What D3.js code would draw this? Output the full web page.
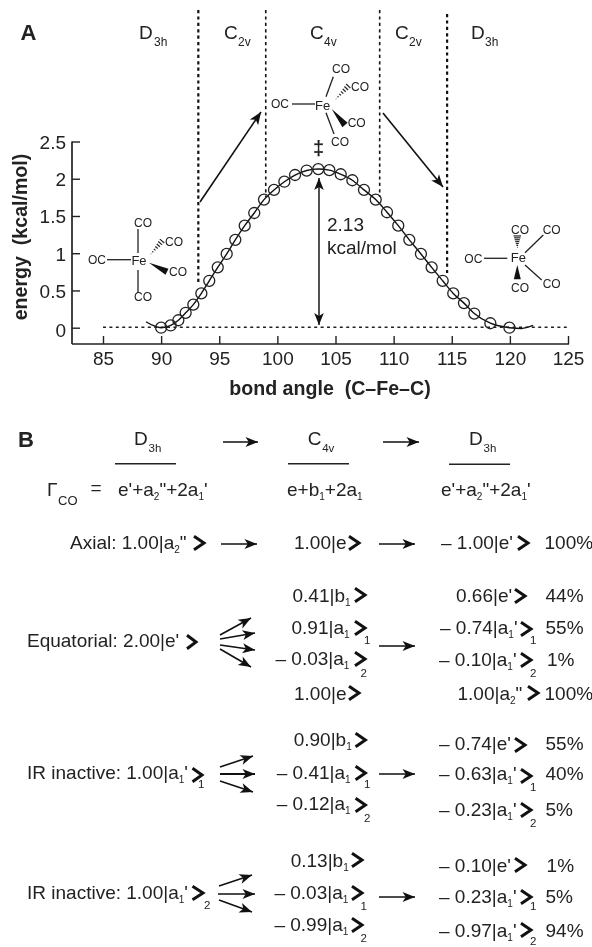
<!DOCTYPE html>
<html><head><meta charset="utf-8">
<script src="https://cdn.jsdelivr.net/npm/d3@7/dist/d3.min.js"></script>
<style>html,body{margin:0;padding:0;background:#fff}svg{display:block;filter:blur(.4px)}text{font-family:"Liberation Sans",Arial,sans-serif;fill:#222}</style>
</head><body><svg id="c" width="592" height="947"></svg>
<script>
// ---- data ----
const angleDeg = [90,90.82,91.48,92.11,92.77,93.46,94.14,94.87,95.64,96.38,97.19,98.01,98.85,99.71,100.6,101.52,102.52,103.52,104.47,105.45,106.45,107.45,108.46,109.43,110.4,111.35,112.35,113.27,114.22,115.13,116.05,116.94,118.32,119.96];
const energy = [0,0.03,0.10,0.20,0.31,0.46,0.63,0.81,0.99,1.18,1.37,1.54,1.72,1.85,1.96,2.05,2.11,2.13,2.115,2.06,1.98,1.85,1.72,1.55,1.37,1.18,0.99,0.81,0.63,0.46,0.33,0.19,0.06,0];
const lineHeadAngle = [88.7,89.3], lineHeadEnergy = [0.08,0.03];
const lineTailAngle = [121,122], lineTailEnergy = [-0.01,0.03];
const xTicks = [85,90,95,100,105,110,115,120,125];
const yTicks = [0,0.5,1,1.5,2,2.5];
const boundaryAngles = [93.2,99,108.8,114.6];
const symmetryLabels = [["D","3h"],["C","2v"],["C","4v"],["C","2v"],["D","3h"]];
const ketLabels = [
 "Axial: 1.00|a_2\"","1.00|e","– 1.00|e'",
 "0.41|b_1","0.91|a_1","– 0.03|a_1","1.00|e",
 "0.66|e'","– 0.74|a_1'","– 0.10|a_1'","1.00|a_2\"",
 "Equatorial: 2.00|e'",
 "IR inactive: 1.00|a_1'","0.90|b_1","– 0.41|a_1","– 0.12|a_1","– 0.74|e'","– 0.63|a_1'","– 0.23|a_1'",
 "IR inactive: 1.00|a_1'","0.13|b_1","– 0.03|a_1","– 0.99|a_1","– 0.10|e'","– 0.23|a_1'","– 0.97|a_1'"];
const ketIndex = ["","","","","1","2","","","1","2","","","1","","1","2","","1","2","2","","1","2","","1","2"];
const percentLabels = ["100%","44%","55%","1%","100%","55%","40%","5%","1%","5%","94%"];

// ---- layout ----
const svg = d3.select("#c");
const ink = "#222";
const x = d3.scaleLinear().domain([85,125]).range([103,568]);
const y = d3.scaleLinear().domain([0,2.5]).range([327.7,141.5]);
const axisXStart = 72, axisY = 344;

function txt(px,py,s,size,opt={}){
  const t = svg.append("text").attr("x",px).attr("y",py).attr("font-size",size).text(s);
  if(opt.anchor) t.attr("text-anchor",opt.anchor);
  if(opt.bold) t.attr("font-weight","bold");
  if(opt.transform) t.attr("transform",opt.transform);
  return t;
}
function rich(px,py,s,size,subSize){
  const t = svg.append("text").attr("x",px).attr("y",py).attr("font-size",size);
  const parts = s.split(/_(.)/);
  let dy = 0;
  parts.forEach((p,i)=>{
    if(!p) return;
    const sub = i%2===1;
    const sp = t.append("tspan").text(p);
    if(sub){sp.attr("font-size",subSize).attr("dy",4-dy);dy=4;}
    else if(dy){sp.attr("dy",-dy);dy=0;}
  });
}
function ln(x1,y1,x2,y2,w=1.3,c=ink){svg.append("line").attr("x1",x1).attr("y1",y1).attr("x2",x2).attr("y2",y2).attr("stroke",c).attr("stroke-width",w);}
function head(xt,yt,ang,L=12.5,W=5){
  const ux=Math.cos(ang),uy=Math.sin(ang),nx=-uy,ny=ux;
  svg.append("path").attr("fill","#111").attr("d",
   `M${xt},${yt}L${xt-L*ux+W*nx},${yt-L*uy+W*ny}L${xt-L*.74*ux},${yt-L*.74*uy}L${xt-L*ux-W*nx},${yt-L*uy-W*ny}Z`);
}
function arrow(x1,y1,x2,y2,w=1.6,L=12.5,W=5){
  ln(x1,y1,x2,y2,w,"#111");
  head(x2,y2,Math.atan2(y2-y1,x2-x1),L,W);
}
function chev(x0,x1,cy){
  svg.append("path").attr("fill","none").attr("stroke","#111").attr("stroke-width",3)
   .attr("d",`M${x0},${cy-6.8}L${x1},${cy}L${x0},${cy+6.8}`);
}
function wedge(x1,y1,x2,y2,W=3.4){
  const a=Math.atan2(y2-y1,x2-x1),nx=-Math.sin(a),ny=Math.cos(a);
  svg.append("path").attr("fill","#111").attr("d",`M${x1},${y1}L${x2+W*nx},${y2+W*ny}L${x2-W*nx},${y2-W*ny}Z`);
}
function hash(x1,y1,x2,y2,W=3.2,n=7){
  const a=Math.atan2(y2-y1,x2-x1),nx=-Math.sin(a),ny=Math.cos(a);
  d3.range(n).forEach(i=>{
    const f=(i+.5)/n,px=x1+(x2-x1)*f,py=y1+(y2-y1)*f,w=W*f;
    ln(px+w*nx,py+w*ny,px-w*nx,py-w*ny,1.2,"#222");
  });
}
function label(cx,cy,s,size=12){txt(cx,cy+size*.36,s,size,{anchor:"middle"});}

// ---- panel A ----
txt(20.5,40,"A",22,{bold:true});
txt(18,447,"B",22,{bold:true});
const symX=[139,224,310,395,471], symSubX=[154,238,324,409,485];
symmetryLabels.forEach((d,i)=>{txt(symX[i],39,d[0],19);txt(symSubX[i],46,d[1],12);});

const vTop=[10,10,10,14], vBot=[283,197,197,273], vW=[2.2,1.6,1.6,2.2];
boundaryAngles.forEach((a,i)=>{
  svg.append("line").attr("x1",x(a)).attr("x2",x(a)).attr("y1",vTop[i]).attr("y2",vBot[i])
   .attr("stroke","#111").attr("stroke-width",vW[i]).attr("stroke-dasharray","3.2,3.2");
});

// axes
const gx = svg.append("g").attr("transform",`translate(0,${axisY})`)
  .call(d3.axisBottom(x).tickValues(xTicks).tickSizeInner(-8).tickSizeOuter(0).tickPadding(0).tickFormat(d3.format("d")));
gx.select(".domain").attr("d",`M${axisXStart},0H${x(125)+1}`).attr("stroke",ink).attr("stroke-width",1.7);
gx.selectAll(".tick line").attr("stroke",ink).attr("stroke-width",1.4);
gx.selectAll(".tick text").attr("y",21).attr("dy",0).attr("font-size",19).attr("fill",ink).attr("font-family","Liberation Sans");
const gy = svg.append("g").attr("transform",`translate(${axisXStart},0)`)
  .call(d3.axisLeft(y).tickValues(yTicks).tickSizeInner(-8).tickSizeOuter(0).tickPadding(0).tickFormat(d=>d3.format("~g")(d)));
gy.select(".domain").attr("d",`M0,${y(2.5)}V${axisY}`).attr("stroke",ink).attr("stroke-width",1.7);
gy.selectAll(".tick line").attr("stroke",ink).attr("stroke-width",1.4);
gy.selectAll(".tick text").attr("x",-6).attr("dy",".36em").attr("font-size",19).attr("fill",ink).attr("font-family","Liberation Sans");
gy.selectAll(".tick").filter(d=>d===0).select("text").attr("dy",".62em").attr("y",-3);
txt(330,395,"bond angle  (C–Fe–C)",19.6,{bold:true,anchor:"middle"}).style("white-space","pre");
txt(0,0,"energy  (kcal/mol)",19.6,{bold:true,anchor:"middle",transform:"translate(27,237) rotate(-90)"}).style("white-space","pre");

// baseline, curve and points
svg.append("line").attr("x1",x(85)).attr("x2",x(125)).attr("y1",y(0)-.5).attr("y2",y(0)-.5)
  .attr("stroke","#222").attr("stroke-width",1.6).attr("stroke-dasharray","3,3.4");
const curveX = lineHeadAngle.concat(angleDeg,lineTailAngle), curveY = lineHeadEnergy.concat(energy,lineTailEnergy);
svg.append("path").attr("fill","none").attr("stroke","#111").attr("stroke-width",1.4)
  .attr("d",d3.line().x(d=>x(d[0])).y(d=>y(d[1])).curve(d3.curveMonotoneX)(d3.zip(curveX,curveY)));
svg.selectAll("circle.p").data(d3.zip(angleDeg,energy)).enter().append("circle").attr("class","p")
  .attr("cx",d=>x(d[0])).attr("cy",d=>y(d[1])).attr("r",5.5)
  .attr("fill","none").attr("stroke","#222").attr("stroke-width",1.3);

// barrier annotation
ln(319,178,319,325,1.7,"#333");
head(319,178,-Math.PI/2,12,4.8);
head(319,325,Math.PI/2,12,4.8);
txt(318.5,155,"‡",20,{anchor:"middle",bold:true});
txt(327,231,"2.13",19);
txt(327,254,"kcal/mol",19);
arrow(200,202,261,112);
arrow(383,113,443,187);

// molecule 1
label(143,223,"CO");ln(138,229,138,253);label(139,260.5,"Fe",13);label(97,260,"OC");ln(107,259.7,131,259.7);
ln(138,270,138,293);label(143,297,"CO");hash(150,255,163,240);label(174,241.7,"CO");wedge(149,262.7,167,271.7);label(178,271.7,"CO");
// molecule 2
label(280,104,"OC");ln(292,104,315,104);label(322.7,105,"Fe",13);label(341,68.3,"CO");ln(333.3,76.7,326,96.7);
hash(335,100,349.3,85);label(360,86.7,"CO");wedge(331.7,109,345,125);label(356.7,122.7,"CO");ln(326,112.7,334,134);label(340,141.7,"CO");
// molecule 3
label(473.3,258.3,"OC");ln(484,258.3,507.3,258.3);label(518.3,257.7,"Fe",13);label(520,229.3,"CO");hash(517.3,248.3,517.3,235,4);
wedge(517.3,265,517.3,279.3,3.5);label(520,287.3,"CO");label(551.7,230,"CO");ln(525,252.7,543.3,235);label(551.7,283.3,"CO");ln(525,265,541.7,280);

// ---- panel B ----
[[134,"D","3h"],[307.7,"C","4v"],[469,"D","3h"]].forEach(d=>{
  txt(d[0],445,d[1],19);txt(d[0]+14.5,452,d[2],11.5);
});
arrow(223,442,258,442);arrow(383,442,419,442);
ln(115,463.7,176,463.7,1.4);ln(288,463.7,349,463.7,1.4);ln(449,464.3,510,464.3,1.4);
txt(47,496,"Γ",19);txt(58,505,"CO",13);txt(90.6,494,"=",19);
rich(118,496,"e'+a_2\"+2a_1'",19,10);
rich(287,496,"e+b_1+2a_1",19,10);
rich(441,496,"e'+a_2\"+2a_1'",19,10);

// x, baseline, chevron x0, chevron x1, chevron centre, index x, index baseline
const ketLayout = [
 [70,549,194,204,543],[294,549,349,359,543],[441,549,518,528,543],
 [292.5,602,355,365,595],[291.5,634,355,365,628,364,644],[275.5,665,355,365,659,360.5,677],[294,700,349,359,693],
 [456,602,515,525,596],[440,634,521,531,629,530,644],[439,666,521,531,660,530,677],[457.5,700,528,538,693],
 [27,647,187,196,642],
 [27,779,192.5,202,775,198,788],[293.7,746,355.6,365.4,740],[276.7,779,355.6,365.4,773,364,788],[276.7,810,355.6,365.4,805,364,822],
 [439,750,515,525,745],[439,780,521,531,776,530,791],[439,816,521,531,810,530,827],
 [27,899,192.5,203,893,204,909],[290.7,867,352,362,860],[274.4,899,352,362,893,360.5,910],[274.4,931,352,362,925,360.5,942],
 [439,872,515,525,865],[439,903,521,531,897,530,910],[439,937,521,531,930,530,945]];
ketLabels.forEach((s,i)=>{
  const L=ketLayout[i];
  rich(L[0],L[1],s,19,10);
  chev(L[2],L[3],L[4]);
  if(ketIndex[i]) txt(L[5],L[6],ketIndex[i],11.5);
});
const pctLayout=[[544.5,549],[545.5,602],[545.5,634],[547,666],[544.5,700],[545.5,750],[545.5,780],[545.5,816],[546.6,872],[545.5,903],[545.5,937]];
percentLabels.forEach((s,i)=>txt(pctLayout[i][0],pctLayout[i][1],s,19));

// reaction arrows
arrow(221,544,257,544);arrow(379,544,415,544);
arrow(220,635,251,618);arrow(220,639,255,633);arrow(220,645,255,650);arrow(220,649,251,667);
arrow(379,646,415,646);
arrow(220,767,253,756);arrow(220,774,255,774,2);arrow(220,781,253,792);
arrow(379,774,415,774);
arrow(219,886,252,875);arrow(218,894,255,894);arrow(219,900,252,912);
arrow(379,897,415,897);
</script></body></html>
